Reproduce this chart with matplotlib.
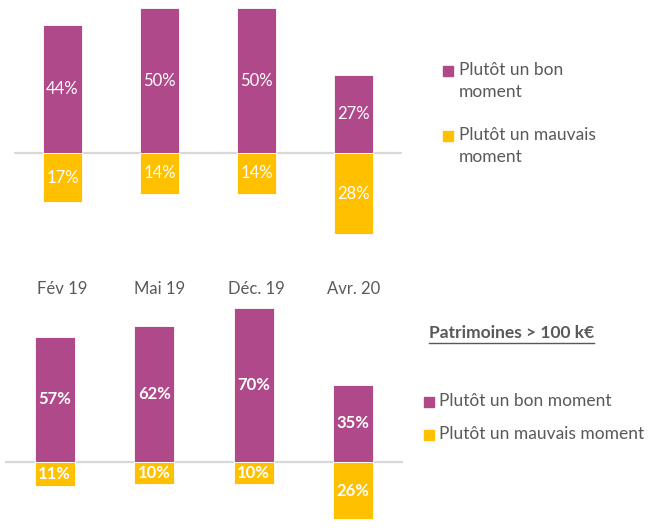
import matplotlib.pyplot as plt
from matplotlib.patches import Rectangle
from matplotlib.lines import Line2D

plt.rcParams['font.family'] = ['Lato', 'DejaVu Sans']

periods = ['Fév 19', 'Mai 19', 'Déc. 19', 'Avr. 20']
# ensemble
bon_all = [44, 50, 50, 27]
mauvais_all = [17, 14, 14, 28]
# patrimoines > 100 k€
bon_riche = [57, 62, 70, 35]
mauvais_riche = [11, 10, 10, 26]

PURPLE = '#B0498A'
YELLOW = '#FFC000'
GREY = '#595959'
FS = 12.5

W, H = 650, 528
fig = plt.figure(figsize=(W / 100, H / 100), dpi=100)


def px_axes(x0, y0, x1, y1):
    # pixel box (top-left origin) -> figure axes
    return fig.add_axes([x0 / W, 1 - y1 / H, (x1 - x0) / W, (y1 - y0) / H])


def draw_panel(ax, bon, mauvais, ylim, bold):
    x = range(len(bon))
    ax.bar(x, bon, width=0.4, color=PURPLE, edgecolor='white', linewidth=0.6)
    ax.bar(x, [-v for v in mauvais], width=0.4, color=YELLOW, edgecolor='white', linewidth=0.6)
    ax.axhline(0, color='#d9d9d9', lw=1.6, zorder=0.5)
    fw = 'bold' if bold else 'normal'
    for i, (b, m) in enumerate(zip(bon, mauvais)):
        ax.text(i, b / 2, f'{b}%', ha='center', va='center', color='white',
                fontsize=12, fontweight=fw)
        ax.text(i, -m / 2, f'{m}%', ha='center', va='center', color='white',
                fontsize=12, fontweight=fw)
    ax.set_xlim(-0.5, len(bon) - 0.5)
    ax.set_ylim(*ylim)
    for s in ax.spines.values():
        s.set_visible(False)
    ax.set_yticks([])


# haut
ax1 = px_axes(14, 0, 402, 250)
draw_panel(ax1, bon_all, mauvais_all, (-97 / 2.9, 153 / 2.9), False)
ax1.set_xticks(range(len(periods)), periods)
ax1.tick_params(axis='x', length=0, pad=28, labelsize=12, labelcolor=GREY)
for lab in ax1.get_xticklabels():
    lab.set_verticalalignment('center')

# bas
ax2 = px_axes(5, 300, 403, 528)
draw_panel(ax2, bon_riche, mauvais_riche, (-66 / 2.2, 162 / 2.2), True)
ax2.set_xticks([])

# légende haut
fig.add_artist(Rectangle((443 / W, 1 - 76 / H), 10 / W, 10 / H, transform=fig.transFigure, color=PURPLE))
fig.text(459 / W, 1 - 70 / H, 'Plutôt un bon', fontsize=FS, color=GREY, va='center')
fig.text(459 / W, 1 - 92 / H, 'moment', fontsize=FS, color=GREY, va='center')
fig.add_artist(Rectangle((443 / W, 1 - 141 / H), 10 / W, 10 / H, transform=fig.transFigure, color=YELLOW))
fig.text(459 / W, 1 - 135 / H, 'Plutôt un mauvais', fontsize=FS, color=GREY, va='center')
fig.text(459 / W, 1 - 157 / H, 'moment', fontsize=FS, color=GREY, va='center')

# titre bas souligné
title = fig.text(429 / W, 1 - 333 / H, 'Patrimoines > 100 k€', fontsize=FS, color=GREY,
                 fontweight='bold', va='center')
fig.canvas.draw()
bb = title.get_window_extent().transformed(fig.transFigure.inverted())
fig.add_artist(Line2D([bb.x0, bb.x1], [1 - 343 / H] * 2, transform=fig.transFigure,
                      color=GREY, lw=1))

# légende bas
fig.add_artist(Rectangle((424 / W, 1 - 407 / H), 10 / W, 10 / H, transform=fig.transFigure, color=PURPLE))
fig.text(439 / W, 1 - 401 / H, 'Plutôt un bon moment', fontsize=FS, color=GREY, va='center')
fig.add_artist(Rectangle((424 / W, 1 - 440 / H), 10 / W, 10 / H, transform=fig.transFigure, color=YELLOW))
fig.text(439 / W, 1 - 434 / H, 'Plutôt un mauvais moment', fontsize=FS, color=GREY, va='center')

fig.savefig('out.png', dpi=100)
